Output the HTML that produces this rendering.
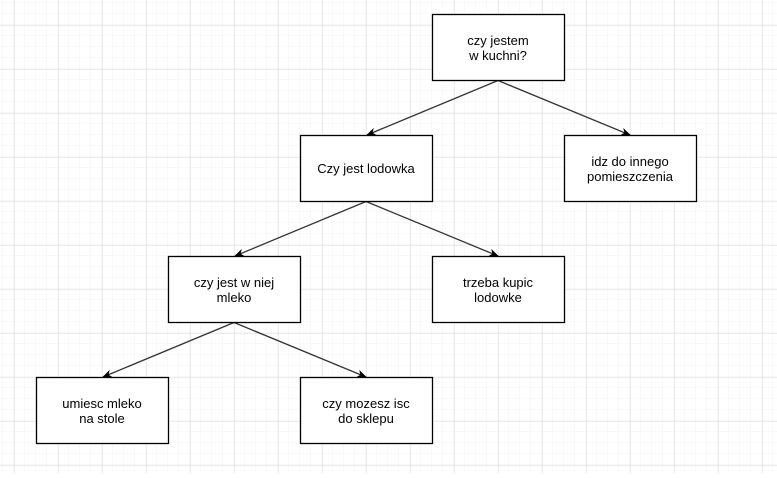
<!DOCTYPE html>
<html><head><style>
body{margin:0;width:777px;height:473px;overflow:hidden;background:#fff}
</style></head><body>
<svg width="777" height="473" xmlns="http://www.w3.org/2000/svg" font-family="Liberation Sans, Arial, sans-serif" font-size="13">
<defs>
<pattern id="minor" width="11" height="11" patternUnits="userSpaceOnUse" x="3" y="3">
<path d="M11 0V11M0 11H11" stroke="#f3f3f3" stroke-width="1" fill="none"/>
</pattern>
<pattern id="major" width="44" height="44" patternUnits="userSpaceOnUse" x="14.5" y="25.5">
<path d="M0 0V44M0 0H44" stroke="#d8d8d8" stroke-width="1" fill="none"/>
</pattern>
<marker id="a" markerWidth="10" markerHeight="10" refX="9" refY="5" orient="auto" markerUnits="userSpaceOnUse">
<path d="M0,1 L10,5 L0,9 L3,5 Z" fill="#000"/>
</marker>
</defs>
<rect width="777" height="473" fill="url(#minor)"/>
<rect width="777" height="473" fill="url(#major)"/>
<g stroke="#333" stroke-width="1.3" fill="none" marker-end="url(#a)">
<line x1="498" y1="80.5" x2="367" y2="135"/>
<line x1="498" y1="80.5" x2="630" y2="135"/>
<line x1="366" y1="201.5" x2="235" y2="256"/>
<line x1="366" y1="201.5" x2="498" y2="256"/>
<line x1="234" y1="322.5" x2="103" y2="377"/>
<line x1="234" y1="322.5" x2="366" y2="377"/>
</g>
<g fill="#fff" stroke="#000" stroke-width="1.3">
<rect x="432.5" y="14.5" width="132" height="66"/>
<rect x="300.5" y="135.5" width="132" height="66"/>
<rect x="564.5" y="135.5" width="132" height="66"/>
<rect x="168.5" y="256.5" width="132" height="66"/>
<rect x="432.5" y="256.5" width="132" height="66"/>
<rect x="36.5" y="377.5" width="132" height="66"/>
<rect x="300.5" y="377.5" width="132" height="66"/>
</g>
<g fill="#000" text-anchor="middle">
<text x="498" y="45">czy jestem</text><text x="498" y="60">w kuchni?</text>
<text x="366" y="173">Czy jest lodowka</text>
<text x="630" y="166">idz do innego</text><text x="630" y="181">pomieszczenia</text>
<text x="234" y="287">czy jest w niej</text><text x="234" y="302">mleko</text>
<text x="498" y="287">trzeba kupic</text><text x="498" y="302">lodowke</text>
<text x="102" y="408">umiesc mleko</text><text x="102" y="423">na stole</text>
<text x="366" y="408">czy mozesz isc</text><text x="366" y="423">do sklepu</text>
</g>
</svg>
</body></html>
